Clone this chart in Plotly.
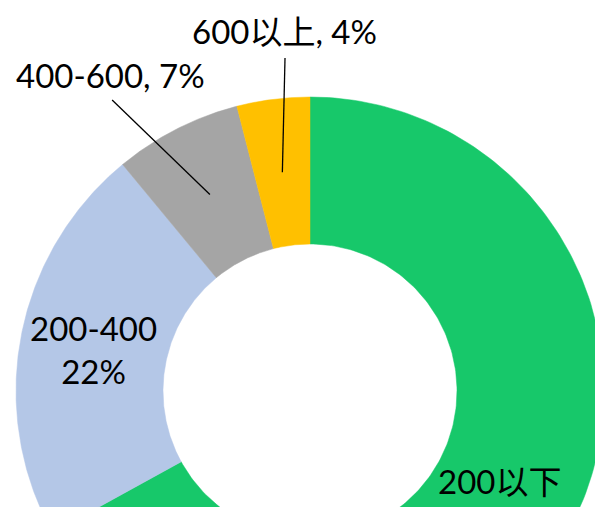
import numpy as np
import plotly.graph_objects as go

# ---- data ----
categories = ["200以下", "200-400", "400-600", "600以上"]
percent = [67, 22, 7, 4]
colors = ["#17C86A", "#B4C7E7", "#A5A5A5", "#FFC000"]
label_text = ["200以下", "200-400<br>22%", "400-600, 7%", "600以上, 4%"]

# ---- geometry (data units: outer radius 1) ----
R_OUT, R_IN = 1.0, 0.5
R_LBL = 0.75
total = sum(percent)

fig = go.Figure()

start = 0.0
mids = []
for cat, val, col in zip(categories, percent, colors):
    a0 = start / total * 2 * np.pi
    a1 = (start + val) / total * 2 * np.pi
    t = np.linspace(a0, a1, 200)
    xs = np.concatenate([R_OUT * np.sin(t), R_IN * np.sin(t[::-1])])
    ys = np.concatenate([R_OUT * np.cos(t), R_IN * np.cos(t[::-1])])
    fig.add_trace(go.Scatter(x=np.append(xs, xs[0]), y=np.append(ys, ys[0]),
                             fill="toself", fillcolor=col, mode="lines",
                             line=dict(color=col, width=0.5),
                             hoverinfo="skip", showlegend=False, name=cat))
    mids.append((a0 + a1) / 2)
    start += val

FONT = dict(family="Lato, 'Noto Sans CJK SC', sans-serif", size=33, color="black")

# inside labels at the ring middle (the 200以下 label's second line is cropped in the reference)
fig.add_annotation(x=R_LBL * np.sin(mids[0]), y=R_LBL * np.cos(mids[0]),
                   text=label_text[0], showarrow=False, font=FONT,
                   xanchor="center", yanchor="middle", yshift=22)
fig.add_annotation(x=R_LBL * np.sin(mids[1]), y=R_LBL * np.cos(mids[1]),
                   text=label_text[1], showarrow=False, font=FONT,
                   xanchor="center", yanchor="middle", align="center")

# outside labels with leader lines (400-600, 600以上)
outside = {2: ((-0.680, 1.075), (-0.673, 0.990)),
           3: ((-0.088, 1.2245), (-0.085, 1.1327))}
for i, (lbl_pos, line_start) in outside.items():
    ex, ey = R_LBL * np.sin(mids[i]), R_LBL * np.cos(mids[i])
    fig.add_trace(go.Scatter(x=[line_start[0], ex], y=[line_start[1], ey],
                             mode="lines", line=dict(color="black", width=1.3),
                             hoverinfo="skip", showlegend=False))
    fig.add_annotation(x=lbl_pos[0], y=lbl_pos[1], text=label_text[i],
                       showarrow=False, font=FONT,
                       xanchor="center", yanchor="middle")

SCALE = 294.0
CX, CY = 310.0, 391.0
W, H = 595, 507
fig.update_layout(
    width=W, height=H,
    margin=dict(l=0, r=0, t=0, b=0),
    paper_bgcolor="white", plot_bgcolor="white",
    xaxis=dict(range=[-CX / SCALE, (W - CX) / SCALE], visible=False, fixedrange=True),
    yaxis=dict(range=[-(H - CY) / SCALE, CY / SCALE], visible=False, fixedrange=True),
    showlegend=False,
)

# remove the default page margin so the 595x507 figure fills the window exactly
fig.write_html("out.html",
               config={"displayModeBar": False, "staticPlot": True},
               post_script="document.body.style.margin='0';"
                           "document.documentElement.style.overflow='hidden';")
